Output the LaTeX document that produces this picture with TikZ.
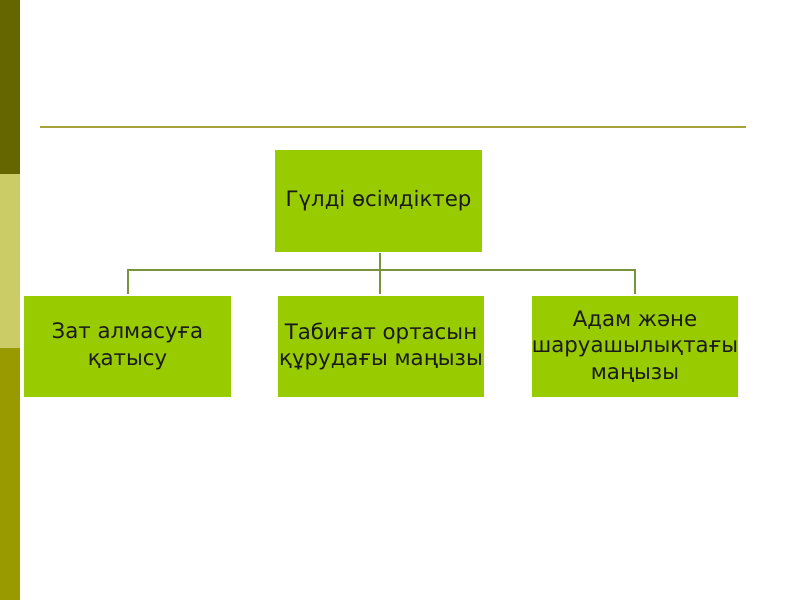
\documentclass[tikz,border=0pt]{standalone}
\usepackage{fontspec}
\setmainfont{DejaVu Sans}
\definecolor{barA}{HTML}{666600}
\definecolor{barB}{HTML}{CCCC66}
\definecolor{barC}{HTML}{999900}
\definecolor{rulec}{HTML}{A5A33A}
\definecolor{boxfill}{HTML}{99CC00}
\definecolor{linec}{HTML}{77933C}
\definecolor{textc}{HTML}{1A1A1A}
\tikzset{
  box/.style={draw=white, line width=1.2pt, fill=boxfill, minimum width=208pt, minimum height=103pt, align=center, font=\fontsize{21.3}{26.5}\selectfont, text=textc, inner sep=1pt},
  conn/.style={draw=linec, line width=2pt}
}
\begin{document}
\begin{tikzpicture}[x=1pt,y=-1pt]
\useasboundingbox (0,0) rectangle (800,600);
\fill[white] (0,0) rectangle (800,600);
\fill[barA] (0,0) rectangle (20,174);
\fill[barB] (0,174) rectangle (20,348);
\fill[barC] (0,348) rectangle (20,600);
\draw[rulec, line width=1.5pt] (40,127) -- (746,127);
\node[box] (top) at (378.5,201) {Гүлді өсімдіктер};
\node[box] (b1) at (127.5,346.5) {Зат алмасуға\\қатысу};
\node[box] (b2) at (381,346.5) {Табиғат ортасын\\құрудағы маңызы};
\node[box] (b3) at (635,346.5) {Адам және\\шаруашылықтағы\\маңызы};
\coordinate (j) at (380,270);
\draw[conn] (top.south -| j) -- (j);
\draw[conn] (b1.north) |- (j) -| (b3.north);
\draw[conn] (j) -- (b2.north -| j);
\end{tikzpicture}
\end{document}
